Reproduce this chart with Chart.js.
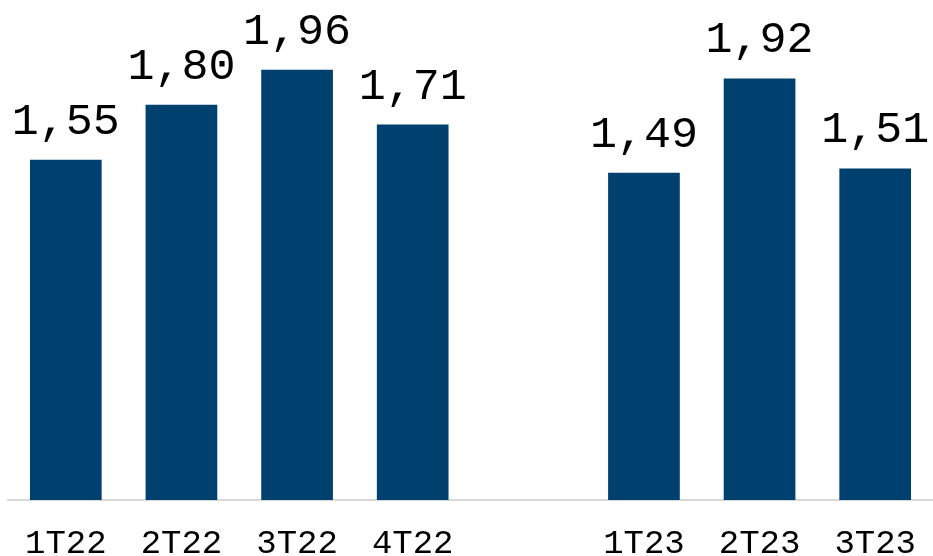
<!DOCTYPE html>
<html>
<head>
<meta charset="utf-8">
<script src="https://cdn.jsdelivr.net/npm/chart.js@4.4.0/dist/chart.umd.min.js"></script>
<style>
  html, body { margin: 0; padding: 0; background: #fff; overflow: hidden; }
  #wrap { width: 935px; height: 580px; position: relative; }
</style>
</head>
<body>
<div id="wrap"><canvas id="chart"></canvas></div>
<script>
// quarters, with an empty slot between 2022 and 2023
const quarters = ['1T22', '2T22', '3T22', '4T22', '', '1T23', '2T23', '3T23'];
const values = [1.55, 1.80, 1.96, 1.71, null, 1.49, 1.92, 1.51];
const barColor = '#00406F';
const monoFont = "'Liberation Mono', 'Courier New', monospace";

// value labels above each bar, decimal comma
const valueLabels = {
    id: 'valueLabels',
    afterDatasetsDraw(chart) {
        const ctx = chart.ctx;
        const meta = chart.getDatasetMeta(0);
        ctx.save();
        ctx.font = '45px ' + monoFont;
        ctx.fillStyle = '#000';
        ctx.textAlign = 'center';
        ctx.textBaseline = 'alphabetic';
        meta.data.forEach((bar, i) => {
            if (values[i] == null) return;
            ctx.fillText(values[i].toFixed(2).replace('.', ','), bar.x, bar.y - 26);
        });
        ctx.restore();
    }
};

new Chart(document.getElementById('chart'), {
    type: 'bar',
    data: {
        labels: quarters,
        datasets: [{ data: values, backgroundColor: barColor, barPercentage: 0.62, categoryPercentage: 1 }]
    },
    options: {
        responsive: true, maintainAspectRatio: false, animation: false,
        layout: { padding: { left: 8, right: 0, top: 6, bottom: 0 } },
        plugins: { legend: { display: false }, tooltip: { enabled: false } },
        scales: {
            x: {
                grid: { display: false },
                border: { display: true, color: '#d9d9d9', width: 2 },
                ticks: { color: '#000', font: { family: monoFont, size: 34, lineHeight: 1 }, padding: 19, maxRotation: 0, autoSkip: false }
            },
            y: { display: false, min: 0, max: 2.25 }
        }
    },
    plugins: [valueLabels]
});
</script>
</body>
</html>
